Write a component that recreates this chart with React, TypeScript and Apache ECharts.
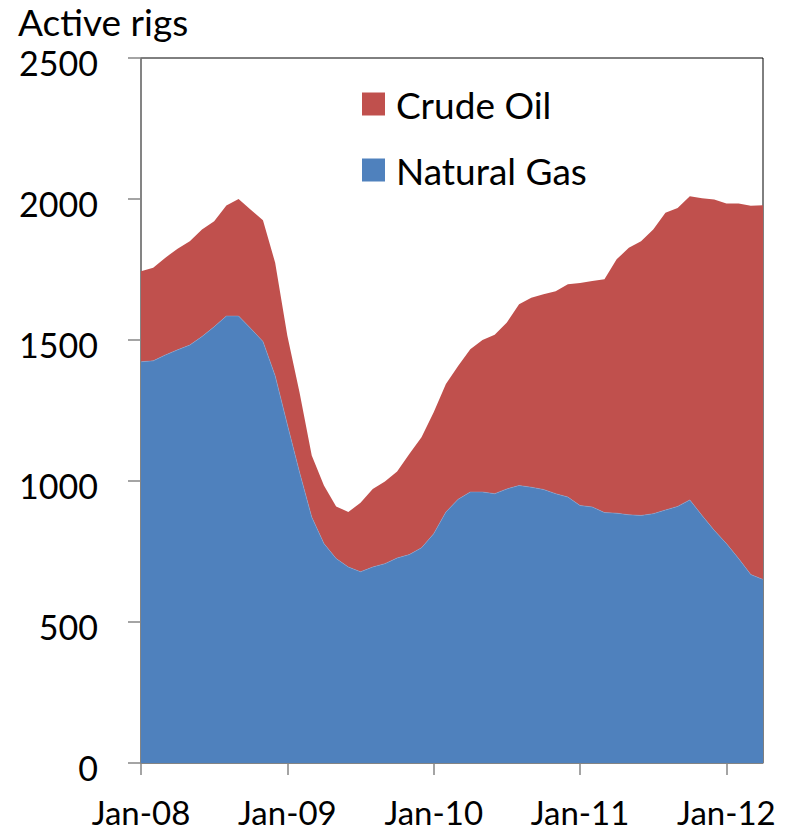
import React, { useEffect, useRef } from "react";
import * as echarts from "echarts";

const MONTHS = ["Jan", "Feb", "Mar", "Apr", "May", "Jun", "Jul", "Aug", "Sep", "Oct", "Nov", "Dec"];
const YEARS = ["08", "09", "10", "11", "12"];
const N_POINTS = 52; // Jan-08 .. Apr-12

const categories: string[] = [];
for (const y of YEARS) for (const m of MONTHS) if (categories.length < N_POINTS) categories.push(`${m}-${y}`);

const naturalGas = [
  1423, 1426, 1447, 1465, 1482, 1512, 1547, 1585, 1585, 1541, 1495, 1373,
  1200, 1031, 872, 778, 725, 695, 678, 695, 707, 727, 739, 763,
  813, 890, 935, 961, 961, 955, 972, 984, 978, 970, 955, 943,
  913, 908, 888, 886, 880, 878, 884, 897, 910, 933, 878, 825,
  778, 725, 668, 651,
];

const crudeOil = [
  321, 330, 345, 359, 368, 380, 374, 392, 415, 421, 430, 401,
  315, 283, 218, 206, 185, 195, 245, 277, 291, 307, 357, 392,
  431, 454, 473, 506, 539, 564, 590, 643, 672, 692, 718, 755,
  789, 801, 827, 900, 947, 972, 1008, 1054, 1058, 1077, 1125, 1173,
  1206, 1259, 1308, 1327,
];

const Y_MIN = 0;
const Y_MAX = 2500;
const Y_STEP = 500;

const FONT = "Lato, 'Open Sans', sans-serif";

export default function App() {
  const ref = useRef<HTMLDivElement>(null);
  useEffect(() => {
    if (!ref.current) return;
    const chart = echarts.init(ref.current, undefined, { renderer: "svg" });
    chart.setOption({
      animation: false,
      backgroundColor: "#fff",
      title: {
        text: "Active rigs",
        left: 18,
        top: 6,
        padding: 0,
        textStyle: { fontFamily: FONT, fontSize: 37, fontWeight: "normal", color: "#000", lineHeight: 30 },
      },
      legend: {
        data: ["Crude Oil", "Natural Gas"],
        orient: "vertical",
        left: 362,
        top: 84,
        padding: 0,
        icon: "rect",
        itemWidth: 23,
        itemHeight: 23,
        itemGap: 26,
        textStyle: {
          fontFamily: FONT,
          fontSize: 37,
          color: "#000",
          lineHeight: 40,
          padding: [0, 0, 0, 6],
        },
      },
      grid: {
        left: 141,
        right: 25,
        top: 58,
        bottom: 68,
        show: true,
        borderColor: "#000",
        borderWidth: 1,
        containLabel: false,
      },
      xAxis: {
        type: "category",
        data: categories,
        boundaryGap: false,
        axisLine: { lineStyle: { color: "#868686", width: 1.5 } },
        axisTick: { show: true, interval: 11, length: 12, lineStyle: { color: "#868686", width: 1.5 } },
        axisLabel: { interval: 11, margin: 32, fontFamily: FONT, fontSize: 33, color: "#000" },
        splitLine: { show: false },
      },
      yAxis: {
        type: "value",
        min: Y_MIN,
        max: Y_MAX,
        interval: Y_STEP,
        axisLine: { show: true, lineStyle: { color: "#868686", width: 1.5 } },
        axisTick: { show: true, length: 13, lineStyle: { color: "#868686", width: 1.5 } },
        axisLabel: {
          margin: 43,
          fontFamily: FONT,
          fontSize: 34,
          lineHeight: 8,
          verticalAlign: "top",
          color: "#000",
          formatter: (v: number) => String(v),
        },
        splitLine: { show: false },
      },
      series: [
        {
          name: "Natural Gas",
          type: "line",
          stack: "rigs",
          data: naturalGas,
          symbol: "none",
          lineStyle: { width: 0.5, color: "#8aa6d0" },
          areaStyle: { color: "#4F81BD", opacity: 1 },
          itemStyle: { color: "#4F81BD" },
          z: 2,
        },
        {
          name: "Crude Oil",
          type: "line",
          stack: "rigs",
          data: crudeOil,
          symbol: "none",
          lineStyle: { width: 0 },
          areaStyle: { color: "#C0504D", opacity: 1 },
          itemStyle: { color: "#C0504D" },
          z: 1,
        },
      ],
    });
    return () => chart.dispose();
  }, []);
  return <div ref={ref} style={{ position: "absolute", left: 0, top: 0, width: 788, height: 831 }} />;
}
